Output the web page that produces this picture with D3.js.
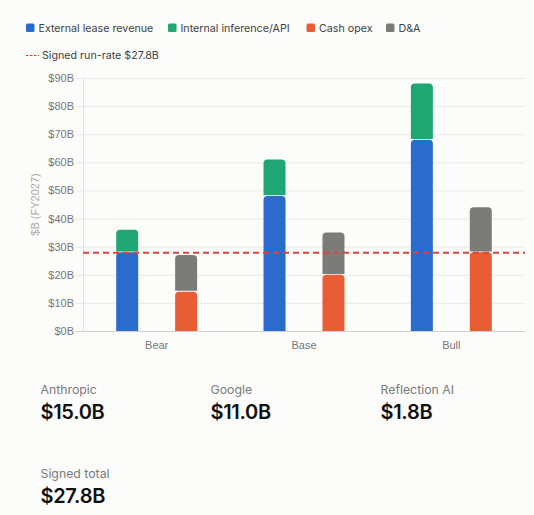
<!DOCTYPE html>
<html>
<head>
<meta charset="utf-8">
<script src="https://cdn.jsdelivr.net/npm/d3@7/dist/d3.min.js"></script>
<style>
  html, body { margin: 0; padding: 0; background: #fcfcfb; }
  svg { display: block; }
</style>
</head>
<body>
<svg id="chart" width="534" height="515"></svg>
<script>
// ---- Data ----
const categories = ["Bear", "Base", "Bull"];
const externalLease = [28, 48, 68];
const internalInference = [8, 13, 20];
const cashOpex = [14, 20, 28];
const depreciation = [13, 15, 16];
const runRate = 27.8;
const yTicks = [0, 10, 20, 30, 40, 50, 60, 70, 80, 90];
const seriesNames = ["External lease revenue", "Internal inference/API", "Cash opex", "D&A"];
const seriesColors = ["#2b6bcc", "#1fa672", "#e85d33", "#7b7b78"];
const runRateLabel = "Signed run-rate $27.8B";
const statLabels = ["Anthropic", "Google", "Reflection AI", "Signed total"];
const statValues = ["$15.0B", "$11.0B", "$1.8B", "$27.8B"];

(function () {
const svg = d3.select("#chart");
const uiFont = "Inter, 'Noto Sans', sans-serif";
const axisFont = "'Liberation Sans', Arial, sans-serif";

// ---- Legend ----
const legendX = [26, 168, 306.5, 386];
const legend = svg.append("g");
seriesNames.forEach((n, i) => {
  const g = legend.append("g").attr("transform", `translate(${legendX[i]},23.5)`);
  g.append("rect").attr("width", 8.5).attr("height", 8.5).attr("rx", 1.5).attr("fill", seriesColors[i]);
  g.append("text").attr("x", 12.5).attr("y", 4.3).attr("dy", "0.35em")
    .attr("font-family", uiFont).attr("font-size", 10.7).attr("fill", "#3f3f3f").text(n);
});
legend.append("line").attr("x1", 26).attr("x2", 39).attr("y1", 55.5).attr("y2", 55.5)
  .attr("stroke", "#d9443f").attr("stroke-width", 1).attr("stroke-dasharray", "2.5,1.5");
legend.append("text").attr("x", 42).attr("y", 55.5).attr("dy", "0.35em")
  .attr("font-family", uiFont).attr("font-size", 10.7).attr("fill", "#3f3f3f").text(runRateLabel);

// ---- Scales ----
const pLeft = 83, pRight = 525, pTop = 78, pBottom = 331;
const x = d3.scaleBand().domain(categories).range([pLeft, pRight]).padding(0);
const y = d3.scaleLinear().domain([0, 90]).range([pBottom, pTop]);
const bw = x.bandwidth();
const inner = d3.scaleBand().domain(["rev", "cost"]).range([0.1 * bw, 0.9 * bw]).padding(0);
const barW = 22;

// gridlines
svg.append("g").selectAll("line").data(yTicks).join("line")
  .attr("x1", pLeft - 7).attr("x2", pRight)
  .attr("y1", d => y(d) + 0.5).attr("y2", d => y(d) + 0.5)
  .attr("stroke", d => d === 0 ? "#cfcfcf" : "#e9e9e7").attr("stroke-width", 1);
svg.append("line").attr("x1", pLeft + 0.5).attr("x2", pLeft + 0.5).attr("y1", pTop).attr("y2", pBottom)
  .attr("stroke", "#e2e2e0");

// y axis labels
const yAxis = d3.axisLeft(y).tickValues(yTicks).tickSize(0).tickPadding(9)
  .tickFormat(d => `$${d}B`);
const yg = svg.append("g").attr("transform", `translate(${pLeft},0)`).call(yAxis);
yg.select(".domain").remove();
yg.selectAll("text").attr("font-family", axisFont).attr("font-size", 11).attr("fill", "#777");

// y title
svg.append("text").attr("transform", `translate(35,${(pTop + pBottom) / 2}) rotate(-90)`)
  .attr("text-anchor", "middle").attr("dy", "0.35em")
  .attr("font-family", axisFont).attr("font-size", 11).attr("fill", "#aaaaa8").text("$B (FY2027)");

// x axis labels
const xAxis = d3.axisBottom(x).tickSize(0).tickPadding(10);
const xg = svg.append("g").attr("transform", `translate(0,${pBottom})`).call(xAxis);
xg.select(".domain").remove();
xg.selectAll("text").attr("font-family", axisFont).attr("font-size", 11).attr("fill", "#777");

// ---- Bars ----
const rows = categories.map((c, i) => ({
  cat: c, ext: externalLease[i], int: internalInference[i], opex: cashOpex[i], dna: depreciation[i]
}));
const revStack = d3.stack().keys(["ext", "int"])(rows);
const costStack = d3.stack().keys(["opex", "dna"])(rows);

function topRounded(x0, y0, w, h, r) {
  r = Math.min(r, h, w / 2);
  return `M${x0},${y0 + h}V${y0 + r}Q${x0},${y0} ${x0 + r},${y0}H${x0 + w - r}Q${x0 + w},${y0} ${x0 + w},${y0 + r}V${y0 + h}Z`;
}

function drawStack(stack, key, colorOffset) {
  stack.forEach((layer, li) => {
    svg.append("g").selectAll("path").data(layer).join("path")
      .attr("fill", seriesColors[colorOffset + li])
      .attr("d", d => {
        const cx = x(d.data.cat) + inner(key) + inner.bandwidth() / 2;
        const y1 = y(d[1]), y0 = y(d[0]);
        const gap = li > 0 ? 0.8 : 0;
        return topRounded(cx - barW / 2, y1, barW, (y0 - y1) - gap, 4);
      });
  });
}
drawStack(revStack, "rev", 0);
drawStack(costStack, "cost", 2);

// run-rate line
svg.append("line").attr("x1", pLeft).attr("x2", pRight)
  .attr("y1", y(runRate)).attr("y2", y(runRate))
  .attr("stroke", "#d9443f").attr("stroke-width", 2).attr("stroke-dasharray", "6,4");

// ---- Stats ----
const statPos = [[40.5, 389.5], [210.5, 389.5], [380.5, 389.5], [40.5, 474]];
statLabels.forEach((l, i) => {
  const [sx, sy] = statPos[i];
  svg.append("text").attr("x", sx).attr("y", sy).attr("dy", "0.35em")
    .attr("font-family", uiFont).attr("font-size", 12.3).attr("fill", "#7a7a78").text(l);
  svg.append("text").attr("x", sx).attr("y", sy + 22.3).attr("dy", "0.35em")
    .attr("font-family", uiFont).attr("font-size", 20).attr("font-weight", 600)
    .attr("fill", "#111").attr("letter-spacing", "-0.3").text(statValues[i]);
});
})();
</script>
</body>
</html>
